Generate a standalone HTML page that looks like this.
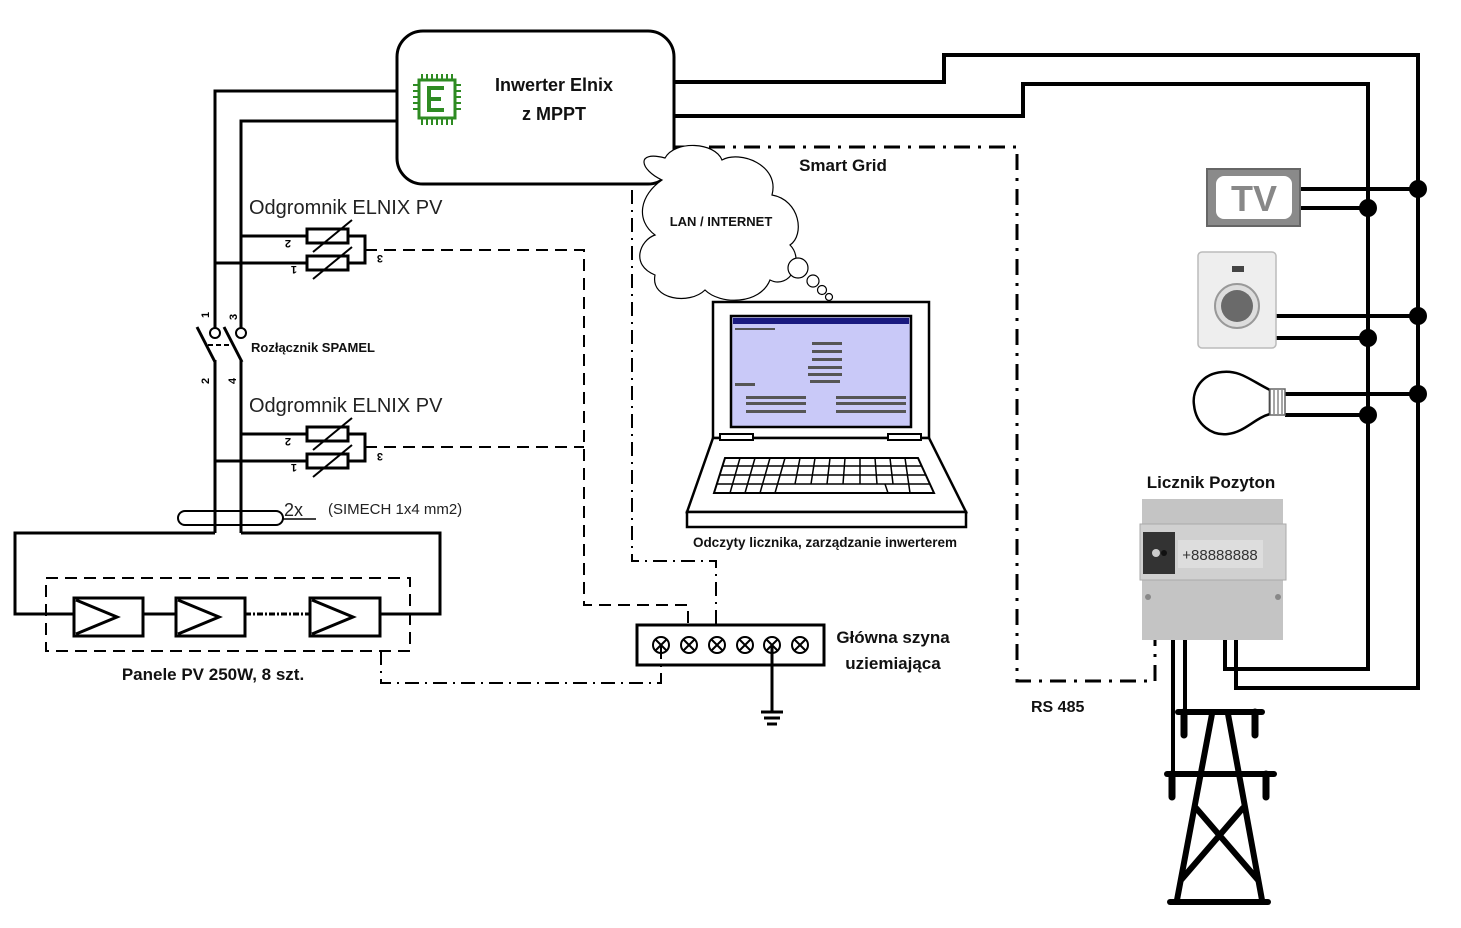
<!DOCTYPE html>
<html><head><meta charset="utf-8"><style>
html,body{margin:0;padding:0;background:#fff;}
svg{display:block;}
text{font-family:"Liberation Sans",sans-serif;}
</style></head><body>
<svg width="1461" height="928" viewBox="0 0 1461 928" xmlns="http://www.w3.org/2000/svg">
<rect width="1461" height="928" fill="#fff"/>
<g fill="none" stroke="#000" stroke-width="3">
<!-- inverter -->
<rect x="397" y="31" width="277" height="153" rx="26" fill="#fff"/>
<!-- left DC wires -->
<polyline points="397,91 215,91 215,328"/>
<polyline points="397,121 241,121 241,328"/>
<line x1="215" y1="360" x2="215" y2="533"/>
<line x1="241" y1="360" x2="241" y2="533"/>
<!-- switch -->
<circle cx="215" cy="333" r="5" stroke-width="2"/>
<circle cx="241" cy="333" r="5" stroke-width="2"/>
<line x1="197" y1="327" x2="215" y2="362"/>
<line x1="224" y1="327" x2="242" y2="362"/>
<line x1="208" y1="345" x2="232" y2="345" stroke-width="2" stroke-dasharray="5,3"/>
<!-- arrester 1 -->
<line x1="241" y1="236" x2="307" y2="236"/>
<line x1="215" y1="263" x2="307" y2="263"/>
<rect x="307" y="229" width="41" height="14"/>
<rect x="307" y="256" width="41" height="14"/>
<polyline points="348,236 365,236 365,263 348,263"/>
<line x1="313" y1="252" x2="352" y2="220" stroke-width="2"/>
<line x1="313" y1="279" x2="352" y2="247" stroke-width="2"/>
<!-- arrester 2 -->
<line x1="241" y1="434" x2="307" y2="434"/>
<line x1="215" y1="461" x2="307" y2="461"/>
<rect x="307" y="427" width="41" height="14"/>
<rect x="307" y="454" width="41" height="14"/>
<polyline points="348,434 365,434 365,461 348,461"/>
<line x1="313" y1="450" x2="352" y2="418" stroke-width="2"/>
<line x1="313" y1="477" x2="352" y2="445" stroke-width="2"/>
<!-- cable oval -->
<rect x="178" y="511" width="105" height="14" rx="7" stroke-width="2"/>
<line x1="283" y1="519" x2="316" y2="519" stroke-width="1.5"/>
<!-- PV loop -->
<polyline points="215,533 15,533 15,614 74,614"/>
<polyline points="241,533 440,533 440,614 380,614"/>
<line x1="143" y1="614" x2="176" y2="614"/>
<line x1="245" y1="614" x2="310" y2="614" stroke-dasharray="6,2,2,2"/>
<rect x="74" y="598" width="69" height="38"/>
<rect x="176" y="598" width="69" height="38"/>
<rect x="310" y="598" width="70" height="38"/>
<polyline points="76,600 117,617 76,634"/>
<polyline points="178,600 219,617 178,634"/>
<polyline points="312,600 353,617 312,634"/>
<!-- ground bus -->
<rect x="637" y="625" width="187" height="40"/>
<line x1="772" y1="645" x2="772" y2="712"/>
<line x1="761" y1="712" x2="783" y2="712"/>
<line x1="764" y1="718" x2="780" y2="718"/>
<line x1="767" y1="724" x2="777" y2="724"/>
<!-- right AC wires -->
<polyline points="674,82 944,82 944,55 1418,55 1418,688 1236,688 1236,640" stroke-width="4"/>
<polyline points="674,116 1023,116 1023,84 1368,84 1368,669 1225,669 1225,640" stroke-width="4"/>
<line x1="1300" y1="189" x2="1418" y2="189" stroke-width="4"/>
<line x1="1300" y1="208" x2="1368" y2="208" stroke-width="4"/>
<line x1="1276" y1="316" x2="1418" y2="316" stroke-width="4"/>
<line x1="1276" y1="338" x2="1368" y2="338" stroke-width="4"/>
<line x1="1285" y1="394" x2="1418" y2="394" stroke-width="4"/>
<line x1="1285" y1="415" x2="1368" y2="415" stroke-width="4"/>
<line x1="1173" y1="640" x2="1173" y2="774" stroke-width="4"/>
<line x1="1185" y1="640" x2="1185" y2="712" stroke-width="4"/>
<!-- tower -->
<g stroke-width="6" stroke-linecap="round">
<line x1="1178" y1="712" x2="1262" y2="712"/>
<line x1="1167" y1="774" x2="1274" y2="774"/>
<line x1="1170" y1="902" x2="1268" y2="902"/>
<line x1="1212" y1="714" x2="1177" y2="900"/>
<line x1="1228" y1="714" x2="1262" y2="900"/>
<line x1="1196" y1="808" x2="1258" y2="880"/>
<line x1="1243" y1="808" x2="1181" y2="880"/>
<line x1="1184" y1="712" x2="1184" y2="735" stroke-width="7"/>
<line x1="1255" y1="712" x2="1255" y2="735" stroke-width="7"/>
<line x1="1172" y1="774" x2="1172" y2="797" stroke-width="7"/>
<line x1="1266" y1="774" x2="1266" y2="797" stroke-width="7"/>
</g>
</g>
<!-- dashed lines -->
<g fill="none" stroke="#000" stroke-width="2">
<polyline points="365,250 584,250 584,605 688,605 688,625" stroke-dasharray="12,7"/>
<line x1="365" y1="447" x2="584" y2="447" stroke-dasharray="12,7"/>
<rect x="46" y="578" width="364" height="73" stroke-dasharray="12,7"/>
<polyline points="381,651 381,683 661,683 661,645" stroke-dasharray="14,6,2,6"/>
<polyline points="632,190 632,561 716,561 716,625" stroke-dasharray="14,6,2,6"/>
<polyline points="674,147 1017,147 1017,681 1155,681 1155,640" stroke-width="3" stroke-dasharray="16,8,3,8"/>
</g>
<!-- crossed circles -->
<g fill="none" stroke="#000" stroke-width="2">
<g transform="translate(661,645)"><circle r="8"/><line x1="-6" y1="-6" x2="6" y2="6"/><line x1="6" y1="-6" x2="-6" y2="6"/></g>
<g transform="translate(689,645)"><circle r="8"/><line x1="-6" y1="-6" x2="6" y2="6"/><line x1="6" y1="-6" x2="-6" y2="6"/></g>
<g transform="translate(717,645)"><circle r="8"/><line x1="-6" y1="-6" x2="6" y2="6"/><line x1="6" y1="-6" x2="-6" y2="6"/></g>
<g transform="translate(745,645)"><circle r="8"/><line x1="-6" y1="-6" x2="6" y2="6"/><line x1="6" y1="-6" x2="-6" y2="6"/></g>
<g transform="translate(772,645)"><circle r="8"/><line x1="-6" y1="-6" x2="6" y2="6"/><line x1="6" y1="-6" x2="-6" y2="6"/></g>
<g transform="translate(800,645)"><circle r="8"/><line x1="-6" y1="-6" x2="6" y2="6"/><line x1="6" y1="-6" x2="-6" y2="6"/></g>
</g>
<!-- junction dots -->
<g fill="#000">
<circle cx="1418" cy="189" r="9"/><circle cx="1368" cy="208" r="9"/>
<circle cx="1418" cy="316" r="9"/><circle cx="1368" cy="338" r="9"/>
<circle cx="1418" cy="394" r="9"/><circle cx="1368" cy="415" r="9"/>
</g>
<!-- logo -->
<g stroke="#2e8b22" fill="none" stroke-width="3">
<rect x="419" y="80" width="36" height="38"/>
<path d="M444,88 H429 V110 H444 M429,99 H441" stroke-width="4"/>
<path d="M422,74v6M427,74v6M432,74v6M437,74v6M442,74v6M447,74v6M452,74v6M422,118v7M427,118v7M432,118v7M437,118v7M442,118v7M447,118v7M452,118v7M413,85h6M413,91h6M413,97h6M413,103h6M413,109h6M455,85h6M455,91h6M455,97h6M455,103h6M455,109h6" stroke-width="2"/>
</g>
<!-- cloud -->
<g fill="#fff" stroke="#000" stroke-width="1.2">
<path d="M662,180 C640,170 635,150 665,158 C675,140 715,142 722,160 C740,150 780,165 772,195 C800,200 805,235 790,245 C805,260 790,290 770,280 C760,305 720,305 705,290 C690,305 650,300 655,275 C630,265 640,240 655,235 C635,220 640,195 662,180 Z"/>
<circle cx="798" cy="268" r="10"/><circle cx="813" cy="281" r="6"/><circle cx="822" cy="290" r="4.5"/><circle cx="829" cy="297" r="3.5"/>
</g>
<!-- laptop -->
<g stroke="#000" stroke-width="2.5" fill="#fff">
<rect x="713" y="302" width="216" height="136"/>
<rect x="731" y="316" width="180" height="111" fill="#c9c9f8"/>
<polygon points="713,438 929,438 966,512 687,512"/>
<rect x="687" y="512" width="279" height="15"/>
<rect x="720" y="434" width="33" height="6" stroke-width="2"/>
<rect x="888" y="434" width="33" height="6" stroke-width="2"/>
<polygon points="725,458 918,458 934,493 714,493" stroke-width="2"/>
</g>
<rect x="733" y="318" width="176" height="6" fill="#1a1a80"/>
<g stroke="#000" stroke-width="1.5">
<line x1="722" y1="466" x2="922" y2="466"/><line x1="719" y1="475" x2="926" y2="475"/><line x1="716" y1="484" x2="930" y2="484"/>
<path d="M740,458 l-10,35 M755,458 l-10,35 M770,458 l-10,35 M785,458 l-10,35 M800,458 l-5,26 M815,458 l-4,26 M830,458 l-3,26 M845,458 l-2,26 M860,458 l0,26 M875,458 l2,26 M890,458 l3,26 M905,458 l5,35 M885,484 l3,9" fill="none"/>
</g>
<g fill="#555">
<rect x="812" y="342" width="30" height="3"/><rect x="812" y="350" width="30" height="3"/><rect x="812" y="358" width="30" height="3"/><rect x="808" y="366" width="34" height="3"/><rect x="808" y="373" width="34" height="3"/><rect x="810" y="380" width="30" height="3"/>
<rect x="746" y="396" width="60" height="3"/><rect x="746" y="402" width="60" height="3"/><rect x="836" y="396" width="70" height="3"/><rect x="836" y="402" width="70" height="3"/>
<rect x="746" y="410" width="60" height="3"/><rect x="836" y="410" width="70" height="3"/><rect x="735" y="383" width="20" height="3"/><rect x="735" y="328" width="40" height="2"/>
</g>
<!-- TV -->
<rect x="1207" y="169" width="93" height="57" fill="#8a8a8a" stroke="#666" stroke-width="2"/>
<rect x="1216" y="176" width="76" height="43" rx="8" fill="#fff"/>
<text x="1254" y="211" font-size="36" font-weight="bold" fill="#888" text-anchor="middle">TV</text>
<!-- washer -->
<rect x="1198" y="252" width="78" height="96" rx="4" fill="#eee" stroke="#bbb" stroke-width="1.5"/>
<rect x="1232" y="266" width="12" height="6" fill="#444"/>
<circle cx="1237" cy="306" r="22" fill="#ddd" stroke="#999" stroke-width="2"/>
<circle cx="1237" cy="306" r="16" fill="#6a6a6a"/>
<!-- bulb -->
<path d="M1270,390 C1250,380 1240,370 1222,372 C1200,374 1192,392 1194,405 C1196,425 1212,436 1228,434 C1245,432 1255,418 1270,414 Z" fill="#fff" stroke="#000" stroke-width="2.5"/>
<rect x="1270" y="389" width="15" height="26" fill="#fff" stroke="#666" stroke-width="1.5"/>
<path d="M1274,390v24M1278,390v24M1282,390v24" stroke="#888" stroke-width="1.5"/>
<!-- meter -->
<rect x="1142" y="499" width="141" height="141" fill="#c4c4c4"/>
<rect x="1140" y="524" width="146" height="56" fill="#d0d0d0" stroke="#aaa"/>
<rect x="1143" y="532" width="32" height="42" fill="#333"/>
<circle cx="1156" cy="553" r="4" fill="#ccc"/><circle cx="1164" cy="553" r="3" fill="#111"/>
<rect x="1178" y="540" width="85" height="28" fill="#ddd"/>
<text x="1220" y="560" font-size="15" fill="#333" text-anchor="middle">+88888888</text>
<circle cx="1148" cy="597" r="3" fill="#888"/><circle cx="1278" cy="597" r="3" fill="#888"/>
<!-- texts -->
<g font-weight="bold" fill="#111">
<text x="554" y="91" font-size="18" text-anchor="middle">Inwerter Elnix</text>
<text x="554" y="120" font-size="18" text-anchor="middle">z MPPT</text>
<text x="843" y="171" font-size="17" text-anchor="middle">Smart Grid</text>
<text x="721" y="226" font-size="13" text-anchor="middle">LAN / INTERNET</text>
<text x="251" y="352" font-size="13">Rozłącznik SPAMEL</text>
<text x="213" y="680" font-size="17" text-anchor="middle">Panele PV 250W, 8 szt.</text>
<text x="893" y="643" font-size="17" text-anchor="middle">Główna szyna</text>
<text x="893" y="669" font-size="17" text-anchor="middle">uziemiająca</text>
<text x="825" y="547" font-size="13.5" text-anchor="middle">Odczyty licznika, zarządzanie inwerterem</text>
<text x="1211" y="488" font-size="17" text-anchor="middle">Licznik Pozyton</text>
<text x="1031" y="712" font-size="16">RS 485</text>
</g>
<g fill="#222">
<text x="249" y="214" font-size="20">Odgromnik ELNIX PV</text>
<text x="249" y="412" font-size="20">Odgromnik ELNIX PV</text>
<text x="284" y="516" font-size="18">2x</text>
<text x="328" y="514" font-size="15">(SIMECH 1x4 mm2)</text>
</g>
<g font-size="11" font-weight="bold" fill="#000">
<text transform="translate(209,318) rotate(-90)">1</text>
<text transform="translate(237,320) rotate(-90)">3</text>
<text transform="translate(209,384) rotate(-90)">2</text>
<text transform="translate(236,384) rotate(-90)">4</text>
<text transform="translate(291,240) rotate(180)">2</text>
<text transform="translate(297,266) rotate(180)">1</text>
<text transform="translate(383,255) rotate(180)">3</text>
<text transform="translate(291,438) rotate(180)">2</text>
<text transform="translate(297,464) rotate(180)">1</text>
<text transform="translate(383,453) rotate(180)">3</text>
</g>
</svg>
</body></html>
